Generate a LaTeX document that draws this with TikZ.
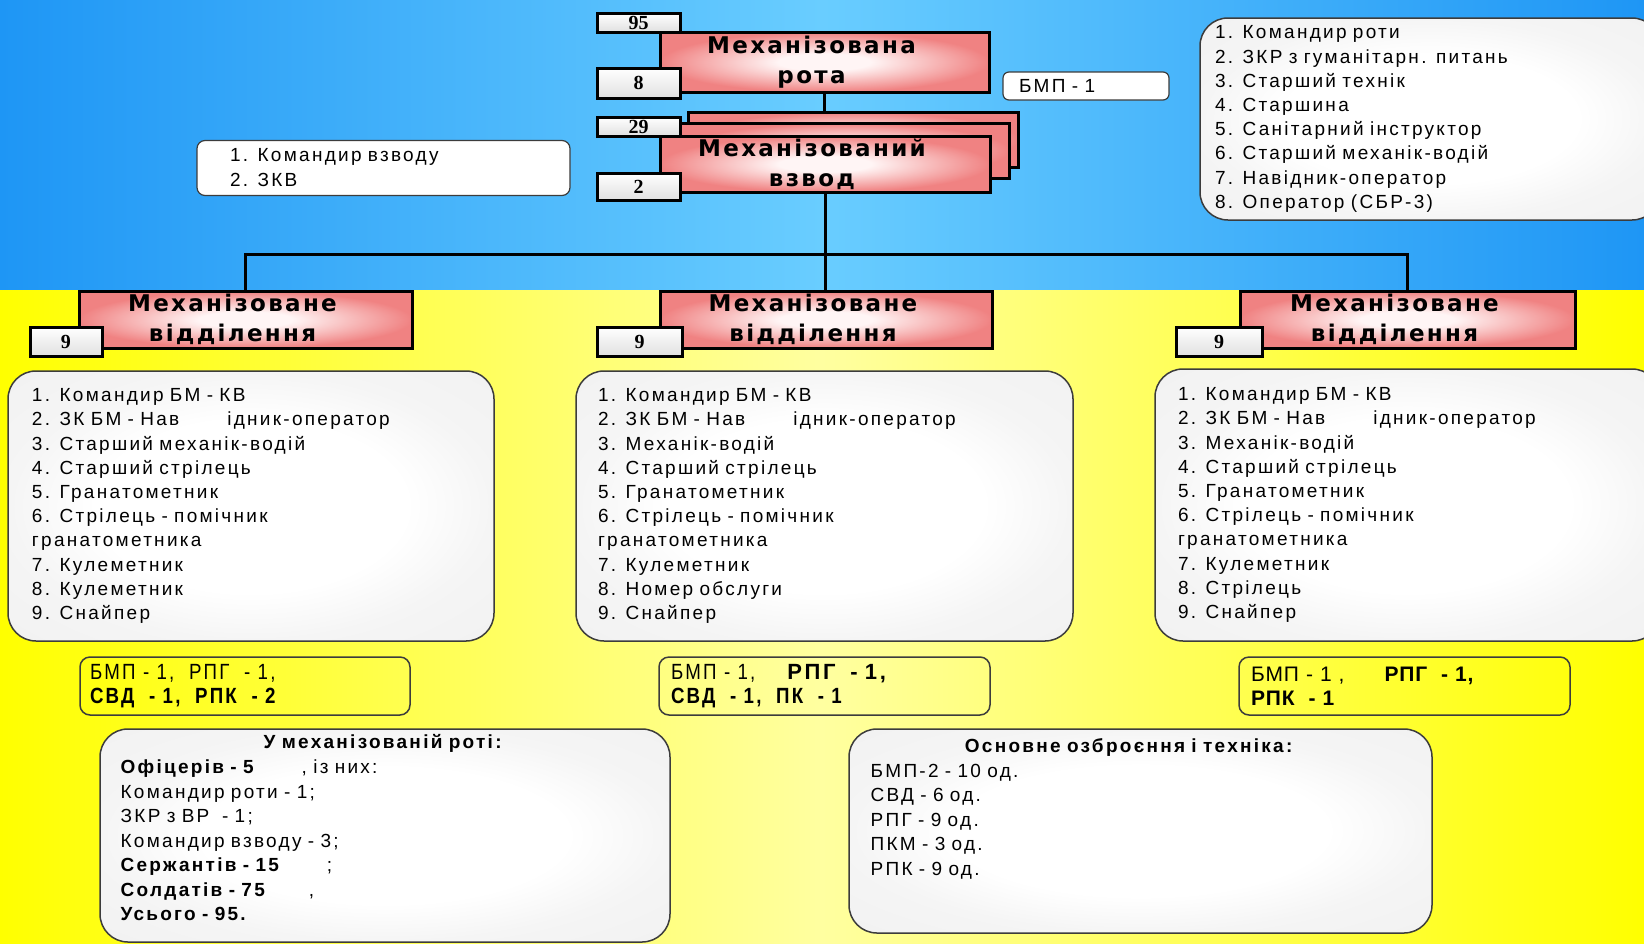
\documentclass[tikz,border=0pt]{standalone}
\usepackage{fontspec}
\setmainfont{Liberation Sans}[LetterSpace=12]
\newfontfamily\headfont{DejaVu Sans}[LetterSpace=10]
\newfontfamily\numfont{Liberation Serif}
\newfontfamily\narrowfont{Liberation Sans}[FakeStretch=0.85, LetterSpace=10]
\newfontfamily\plainfont{Liberation Sans}[LetterSpace=4]
\usetikzlibrary{positioning}

\definecolor{skyE}{RGB}{30,150,245}
\definecolor{skyM}{RGB}{105,205,255}
\definecolor{sunE}{RGB}{255,255,0}
\definecolor{sunM}{RGB}{255,255,160}
\definecolor{pinkE}{RGB}{240,130,130}
\definecolor{pinkM}{RGB}{255,245,245}
\definecolor{edgegray}{RGB}{60,60,60}

\pgfdeclareradialshading{pinkglow}{\pgfpoint{0bp}{0bp}}{color(0bp)=(pinkM); color(7bp)=(pinkM); color(25bp)=(pinkE); color(50bp)=(pinkE)}
\pgfdeclareradialshading{softwhite}{\pgfpoint{0bp}{0bp}}{color(0bp)=(white); color(16bp)=(white); color(25bp)=(black!4); color(50bp)=(black!7)}

% two-line heading, set a little left of the box centre
\newcommand{\hd}[2]{#1\kern13pt\mbox{}\\#2\kern13pt\mbox{}}

\begin{document}
\begin{tikzpicture}[x=0.5pt, y=-0.5pt,
  redbox/.style={draw, line width=1.5pt, shade, shading=pinkglow, align=center, inner sep=0pt,
    font=\headfont\bfseries\fontsize{11.5}{15}\selectfont},
  numbox/.style={draw, line width=1.5pt, top color=white, bottom color=black!12, inner sep=0pt,
    minimum width=41.5pt, font=\numfont\bfseries\fontsize{10}{10}\selectfont},
  listbox/.style={draw=edgegray, line width=0.75pt, shade, shading=softwhite, rounded corners=14pt,
    align=left, inner ysep=0pt, font=\fontsize{9.5}{12.1}\selectfont},
  armbox/.style={draw=edgegray, line width=0.75pt, rounded corners=5pt, align=left, inner ysep=0pt,
    font=\fontsize{11}{12}\selectfont},
  notebox/.style={draw=edgegray, line width=0.6pt, fill=white, rounded corners=3pt, align=left,
    inner ysep=0pt, font=\fontsize{9.5}{12.5}\selectfont},
  txt/.style={anchor=north west, inner sep=0pt, align=left, font=\fontsize{9.5}{12.3}\selectfont},
  link/.style={line width=1.5pt}
]
\fill[left color=skyE, right color=skyE, middle color=skyM] (0,0) rectangle (1644,290);
\fill[left color=sunE, right color=sunE, middle color=sunM] (0,290) rectangle (1644,943);
\useasboundingbox (0,0) rectangle (1644,943);

% company
\node[redbox, minimum width=164.5pt, minimum height=30pt] (rota) at (824.5,62) {\hd{Механізована}{рота}};
\node[numbox, minimum height=9.5pt] (n95) at (638.5,22.5) {95};
\node[numbox, minimum height=15pt] (n8) at (638.5,83) {8};
\node[notebox, text width=67pt, inner xsep=8pt, minimum height=14pt] (bmp) at (1086,86) {БМП - 1};
\node[listbox, text width=215pt, inner xsep=7.5pt, minimum height=101pt,
  font=\fontsize{9.5}{12.1}\selectfont] (rotalist) at (1430,119)
  {1. Командир роти\\2. ЗКР з гуманітарн. питань\\3. Старший технік\\4. Старшина\\
   5. Санітарний інструктор\\6. Старший механік-водій\\7. Навідник-оператор\\8. Оператор (СБР-3)};

% platoon
\node[redbox, minimum width=165pt, minimum height=27.5pt] (vzvodC) at (853,139.5) {};
\node[redbox, minimum width=164.5pt, minimum height=27.5pt] (vzvodB) at (844.5,150.5) {};
\node[redbox, minimum width=165pt, minimum height=28pt] (vzvod) at (825,164) {\hd{Механізований}{взвод}};
\node[numbox, minimum height=9.5pt] (n29) at (638.5,126.5) {29};
\node[numbox, minimum height=13.5pt] (n2) at (638.5,186.5) {2};
\node[notebox, text width=153.5pt, inner xsep=16.5pt, minimum height=27.5pt, rounded corners=4pt]
  (vzvodlist) at (383.5,168) {1. Командир взводу\\2. ЗКВ};

% sections
\node[redbox, minimum width=166.5pt, minimum height=28.5pt] (vidd1) at (245.5,319.5) {\hd{Механізоване}{відділення}};
\node[redbox, minimum width=166pt, minimum height=28.5pt] (vidd2) at (826,319.5) {\hd{Механізоване}{відділення}};
\node[redbox, minimum width=167.5pt, minimum height=28.5pt] (vidd3) at (1407.5,319.5) {\hd{Механізоване}{відділення}};
\node[numbox, minimum width=36pt, minimum height=14.5pt] (n9a) at (66,341.5) {9};
\node[numbox, minimum width=42.5pt, minimum height=14.5pt] (n9b) at (639.5,341.5) {9};
\node[numbox, minimum width=43pt, minimum height=14.5pt] (n9c) at (1219,341.5) {9};

\node[listbox, text width=219pt, inner xsep=12pt, minimum height=135pt] (list1) at (251,506)
  {1. Командир БМ - КВ\\2. ЗК БМ - Нав\hspace{24pt}ідник-оператор\\3. Старший механік-водій\\
   4. Старший стрілець\\5. Гранатометник\\6. Стрілець - помічник\\гранатометника\\
   7. Кулеметник\\8. Кулеметник\\9. Снайпер};
\node[listbox, text width=226.5pt, inner xsep=11pt, minimum height=135pt] (list2) at (824.5,506)
  {1. Командир БМ - КВ\\2. ЗК БМ - Нав\hspace{24pt}ідник-оператор\\3. Механік-водій\\
   4. Старший стрілець\\5. Гранатометник\\6. Стрілець - помічник\\гранатометника\\
   7. Кулеметник\\8. Номер обслуги\\9. Снайпер};
\node[listbox, text width=229.5pt, inner xsep=11.5pt, minimum height=136pt] (list3) at (1407.5,505)
  {1. Командир БМ - КВ\\2. ЗК БМ - Нав\hspace{24pt}ідник-оператор\\3. Механік-водій\\
   4. Старший стрілець\\5. Гранатометник\\6. Стрілець - помічник\\гранатометника\\
   7. Кулеметник\\8. Стрілець\\9. Снайпер};

% weapons
\node[armbox, text width=155pt, inner xsep=5pt, minimum height=29pt] (arm1) at (245,686)
  {{\narrowfont БМП - 1,\ \ РПГ\ \ -\ 1,}\\{\narrowfont\bfseries СВД\ \ - 1,\ \ РПК\ \ -\ 2}};
\node[armbox, text width=153.5pt, inner xsep=6pt, minimum height=29pt] (arm2) at (824.5,686)
  {{\narrowfont БМП - 1,}\hspace{16pt}{\bfseries РПГ\ \ - 1,}\\{\narrowfont\bfseries СВД\ \ - 1,\ \ ПК\ \ - 1}};
\node[armbox, text width=153.5pt, inner xsep=6pt, minimum height=29pt, font=\plainfont\fontsize{10.5}{12}\selectfont]
  (arm3) at (1404.5,686) {БМП - 1 ,\hspace{20pt}{\bfseries РПГ\ \ - 1,}\\{\bfseries РПК\ \ - 1}};

% totals
\node[listbox, minimum width=285pt, minimum height=106.5pt] (sumbox) at (385,835.5) {};
\node[txt, text width=262pt] (sumtext) at ([shift={(21,6)}]sumbox.north west)
  {\makebox[\linewidth]{\bfseries У механізованій роті:}\\
   {\bfseries Офіцерів - 5}\hspace{24pt}, із них:\\Командир роти - 1;\\ЗКР з ВР\ \ - 1;\\
   Командир взводу - 3;\\{\bfseries Сержантів - 15}\hspace{24pt};\\
   {\bfseries Солдатів - 75}\hspace{22pt},\\{\bfseries Усього - 95.}};
\node[listbox, minimum width=291.5pt, minimum height=102pt] (weapbox) at (1140.5,831) {};
\node[txt, text width=258pt] (weaptext) at ([shift={(22,10)}]weapbox.north west)
  {\makebox[\linewidth]{\bfseries Основне озброєння і техніка:}\\
   БМП-2 - 10 од.\\СВД - 6 од.\\РПГ - 9 од.\\ПКМ - 3 од.\\РПК - 9 од.};

% connectors
\coordinate (bus) at (825,254);
\draw[link] (rota.south) -- (rota.south |- vzvodC.north);
\draw[link] (vzvod.south) -- (vzvod.south |- vidd2.north);
\draw[link] (vidd1.north) |- (bus) -| (vidd3.north);
\end{tikzpicture}
\end{document}
